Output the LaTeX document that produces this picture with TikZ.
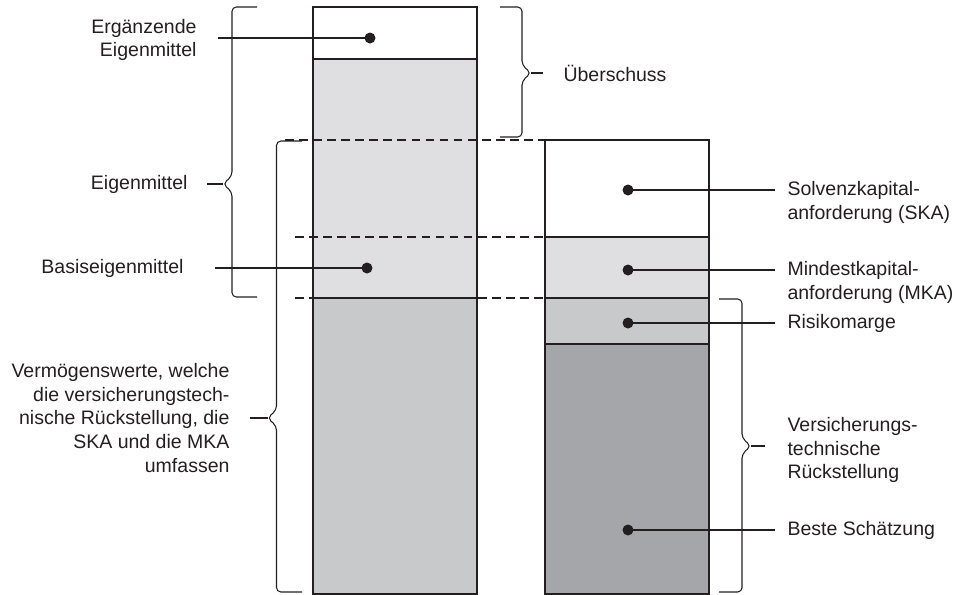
\documentclass[tikz,border=0pt]{standalone}
\usepackage{fontspec}
\setmainfont{Liberation Sans}
\usepackage{tikz}
\usepackage{color}
\definecolor{ink}{RGB}{35,31,32}
\definecolor{lightfill}{RGB}{223,223,225}
\definecolor{midfill}{RGB}{200,201,203}
\definecolor{darkfill}{RGB}{165,166,169}

\begin{document}
\begin{tikzpicture} [scale=1, color=ink, line width=0.6pt,
  lbl/.style={inner sep=0pt, font=\fontsize{11.1}{13.6}\selectfont},
  brc/.style={rounded corners=2.5pt},
  cutline/.style={dash pattern=on 5pt off 3pt}]
\useasboundingbox (0,0) rectangle (19.24,-11.88);
% left column
\filldraw [fill=white] (6.26,-0.14) rectangle (9.54,-1.18);
\filldraw [fill=lightfill] (6.26,-1.18) rectangle (9.54,-5.96);
\filldraw [fill=midfill] (6.26,-5.96) rectangle (9.54,-11.88);
% dashed levels
\draw [cutline] (5.70,-2.80) -- (10.90,-2.80);
\draw [cutline] (5.90,-4.74) -- (10.90,-4.74);
\draw [cutline] (5.90,-5.96) -- (10.90,-5.96);
% right column
\filldraw [fill=white] (10.90,-2.80) rectangle (14.18,-4.74);
\filldraw [fill=lightfill] (10.90,-4.74) rectangle (14.18,-5.96);
\filldraw [fill=midfill] (10.90,-5.96) rectangle (14.18,-6.88);
\filldraw [fill=darkfill] (10.90,-6.88) rectangle (14.18,-11.88);
% points
\coordinate (erg) at (7.40,-0.76);
\coordinate (bas) at (7.34,-5.36);
\coordinate (ska) at (12.56,-3.80);
\coordinate (mka) at (12.56,-5.40);
\coordinate (risk) at (12.56,-6.46);
\coordinate (best) at (12.56,-10.60);
\coordinate (ergend) at (4.36,-0.76);
\coordinate (basend) at (4.30,-5.36);
\coordinate (skaend) at (15.50,-3.80);
\coordinate (mkaend) at (15.50,-5.40);
\coordinate (riskend) at (15.50,-6.46);
\coordinate (bestend) at (15.50,-10.60);
\draw [line width=0.8pt] (erg)--(ergend);
\draw [line width=0.8pt] (bas)--(basend);
\draw [line width=0.8pt] (ska)--(skaend);
\draw [line width=0.8pt] (mka)--(mkaend);
\draw [line width=0.8pt] (risk)--(riskend);
\draw [line width=0.8pt] (best)--(bestend);
\fill (erg) circle (0.11);
\fill (bas) circle (0.11);
\fill (ska) circle (0.11);
\fill (mka) circle (0.11);
\fill (risk) circle (0.11);
\fill (best) circle (0.11);
% braces
\draw [brc] (5.14,-0.14) -| (4.64,-3.52) -- (4.46,-3.68) -- (4.64,-3.84) |- (5.14,-5.94);
\draw [brc] (6.04,-2.82) -| (5.53,-8.20) -- (5.35,-8.36) -- (5.53,-8.52) |- (6.04,-11.84);
\draw [brc] (10.00,-0.14) -| (10.44,-1.30) -- (10.62,-1.46) -- (10.44,-1.62) |- (10.00,-2.74);
\draw [brc] (14.38,-5.98) -| (14.84,-8.76) -- (15.02,-8.92) -- (14.84,-9.08) |- (14.38,-11.84);
\coordinate (eigtip) at (4.46,-3.68);
\coordinate (eigend) at (4.14,-3.68);
\coordinate (vermtip) at (5.35,-8.36);
\coordinate (vermend) at (5.00,-8.36);
\coordinate (uebtip) at (10.62,-1.46);
\coordinate (uebend) at (10.86,-1.46);
\coordinate (vttip) at (15.02,-8.92);
\coordinate (vtend) at (15.30,-8.92);
\draw (eigend)--(eigtip);
\draw (vermend)--(vermtip);
\draw (uebtip)--(uebend);
\draw (vttip)--(vtend);
% labels
\node [lbl, anchor=east, align=right] (ergtxt) at (3.94,-0.80) {Ergänzende\\Eigenmittel};
\node [lbl, anchor=east] (eigtxt) at (3.76,-3.68) {Eigenmittel};
\node [lbl, anchor=east] (bastxt) at (3.68,-5.36) {Basiseigenmittel};
\node [lbl, anchor=east, align=right] (vermtxt) at (4.60,-8.36) {Vermögenswerte, welche\\die versicherungstech-\\nische Rückstellung, die\\SKA und die MKA\\umfassen};
\node [lbl, anchor=west] (uebtxt) at (11.26,-1.46) {Überschuss};
\node [lbl, anchor=west, align=left] (skatxt) at (15.74,-4.04) {Solvenzkapital-\\anforderung (SKA)};
\node [lbl, anchor=west, align=left] (mkatxt) at (15.74,-5.64) {Mindestkapital-\\anforderung (MKA)};
\node [lbl, anchor=west] (risktxt) at (15.74,-6.46) {Risikomarge};
\node [lbl, anchor=west, align=left] (vttxt) at (15.74,-9.00) {Versicherungs-\\technische\\Rückstellung};
\node [lbl, anchor=west] (besttxt) at (15.74,-10.60) {Beste Schätzung};

\end{tikzpicture}
\end{document}
